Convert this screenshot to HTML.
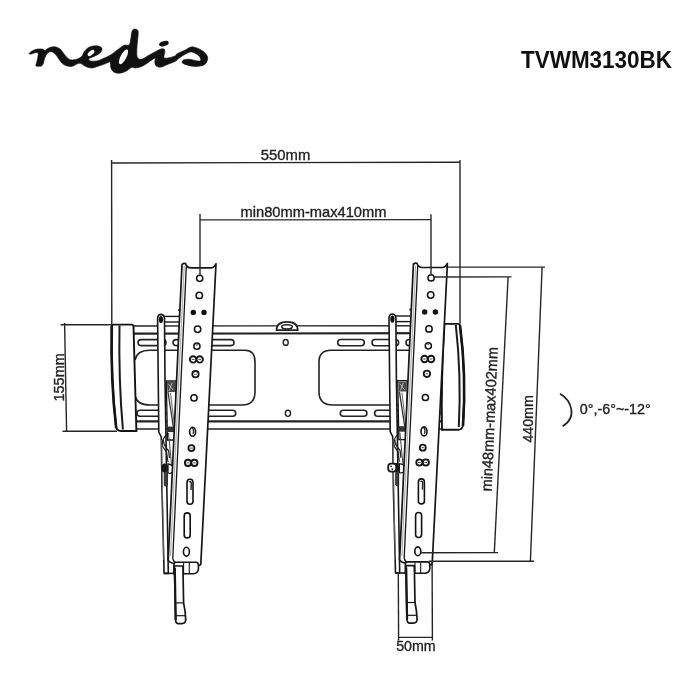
<!DOCTYPE html><html><head><meta charset="utf-8"><style>html,body{margin:0;padding:0;background:#fff;width:700px;height:700px;overflow:hidden}svg{display:block;will-change:transform}</style></head><body>
<svg width="700" height="700" viewBox="0 0 700 700">
<rect width="700" height="700" fill="#fff"/>
<g stroke="#222" fill="none">
<line x1="134" y1="326" x2="445" y2="325.8" stroke-width="1.4"/>
<line x1="134" y1="333.7" x2="443" y2="333.2" stroke-width="2.2"/>
<line x1="135" y1="421.3" x2="441" y2="421.3" stroke-width="2.2"/>
<line x1="135" y1="429" x2="441" y2="429" stroke-width="1.4"/>
<rect x="138" y="339.6" width="28" height="6.0" rx="3.0" stroke-width="1.6"/>
<rect x="173" y="339.6" width="61" height="6.0" rx="3.0" stroke-width="1.6"/>
<rect x="337.7" y="339.5" width="26.600000000000023" height="6.199999999999989" rx="3.0999999999999943" stroke-width="1.6"/>
<rect x="372" y="339.5" width="26.600000000000023" height="6.199999999999989" rx="3.0999999999999943" stroke-width="1.6"/>
<rect x="406" y="339.5" width="34" height="6.199999999999989" rx="3.0999999999999943" stroke-width="1.6"/>
<rect x="137" y="410.3" width="29" height="6.0" rx="3.0" stroke-width="1.6"/>
<rect x="172" y="410.3" width="63.69999999999999" height="6.0" rx="3.0" stroke-width="1.6"/>
<rect x="340.3" y="410.3" width="26.599999999999966" height="6.0" rx="3.0" stroke-width="1.6"/>
<rect x="374.6" y="410.3" width="25.69999999999999" height="6.0" rx="3.0" stroke-width="1.6"/>
<rect x="407" y="410.3" width="33" height="6.0" rx="3.0" stroke-width="1.6"/>
<path d="M135,360 Q137,350.3 150,350.3 L245,350.3 Q255,350.3 255,362 L255,392 Q255,405 242,405 L150,405 Q137,405 135,396" stroke-width="1.6"/>
<path d="M440,360 Q438,350.3 425,350.3 L331,350.3 Q319,350.3 319,362 L319,392 Q319,405 333,405 L425,405 Q438,405 440,396" stroke-width="1.6"/>
<ellipse cx="285.7" cy="342.4" rx="2.5" ry="2.9" stroke-width="1.4"/>
<ellipse cx="287.9" cy="413.3" rx="2.6" ry="3.1" stroke-width="1.4"/>
<path d="M276.5,330.2 Q276.5,321.8 287,321.8 Q297.8,321.8 297.8,330.2 Z" fill="#fff" stroke-width="1.7"/>
<ellipse cx="287" cy="326.8" rx="5.3" ry="2.1" stroke-width="1.5"/>
</g>
<path d="M113.5,324.6 L131.8,324.6 Q133.3,324.6 133.5,326.5 L136.4,431 L121,431 Q116.4,431 116,426 Q111,380 111.6,327 Q111.8,324.6 113.5,324.6 Z" fill="#fff" stroke="#141414" stroke-width="1.9"/>
<path d="M111.8,326 Q110.5,380 116.2,428" stroke="#141414" stroke-width="2.6" fill="none"/>
<path d="M119.5,325.5 Q118.5,380 122.9,429.5" stroke="#1a1a1a" stroke-width="2" fill="none"/>
<path d="M444.5,323.9 L458.2,323.9 Q459.7,323.9 460,325.5 Q466.5,375 463,425 Q462.5,429.8 458,429.8 L442,429.8 Q441,380 444.5,323.9 Z" fill="#fff" stroke="#141414" stroke-width="1.9"/>
<path d="M460,325.5 Q466.5,375 463,426" stroke="#141414" stroke-width="2.6" fill="none"/>
<path d="M455.8,325 Q461.5,375 458.8,427" stroke="#1a1a1a" stroke-width="2" fill="none"/>
<g id="br"><path d="M157.6,318.5 Q157.8,314.4 161,314.4 Q164.3,314.6 164.5,318.5 L165,380 L168.3,573.4 L164.1,573.4 L162,490 L161.3,437 L158.8,432 Z" fill="#fff" stroke="#161616" stroke-width="1.6" stroke-linejoin="round"/><ellipse cx="161" cy="319.5" rx="2.1" ry="3.6" fill="#111"/><line x1="161.5" y1="440" x2="163.8" y2="560" stroke="#888" stroke-width="0.7"/><line x1="164.5" y1="316.4" x2="180" y2="316.4" stroke="#161616" stroke-width="1.4"/><line x1="164.5" y1="322" x2="180" y2="322" stroke="#161616" stroke-width="1.4"/><path d="M166.3,381 L176,381 L175,440 L167.5,440 Z" fill="#fff" stroke="#161616" stroke-width="1.3"/><path d="M167,382 L175.5,382 L175,392 L167.5,392 Z" fill="#4a4a4a"/><path d="M168.5,384 L173,390 M172,383 L169,391" stroke="#ddd" stroke-width="0.7"/><line x1="168" y1="392" x2="173.5" y2="428" stroke="#333" stroke-width="1.3"/><line x1="170.5" y1="393" x2="174.5" y2="426" stroke="#555" stroke-width="0.9"/><rect x="167" y="426.6" width="7.5" height="5.5" fill="#333"/><path d="M167.5,433.5 Q160.5,440 163,447 L166.5,452 L168,462" stroke="#222" stroke-width="1.2" fill="none"/><line x1="168.5" y1="433" x2="172.5" y2="475" stroke="#444" stroke-width="1"/><path d="M163.3,440 Q163.8,446 168.6,450.7 L169.5,458" stroke="#222" stroke-width="1.3" fill="none"/><path d="M168,464 Q172.6,464.5 173.4,468 L173.6,471.5 Q171,474 168,473 Z" fill="#fff" stroke="#1a1a1a" stroke-width="1.3"/><ellipse cx="164.8" cy="468" rx="3.4" ry="4.6" fill="#161616"/><rect x="164.3" y="471.5" width="3" height="14.5" rx="1.2" fill="#444" stroke="#1a1a1a" stroke-width="0.9"/><path d="M182,264.5 Q183.5,263 185.5,263.6 Q187,267.9 191,267.9 L210.7,267.9 Q214,267.9 216,263.8 L200.8,564.2 Q199.8,565.8 197.5,565.5 L175,563.5 Q169.5,563 168.2,560 Z" fill="#fff" stroke="#161616" stroke-width="1.7" stroke-linejoin="round"/><path d="M184.2,266 L170.5,556" stroke="#b0b0b0" stroke-width="1.2"/><path d="M186.3,266.5 L172.8,558 Q173,562 177,563" stroke="#161616" stroke-width="1.3" fill="none"/><circle cx="179.3" cy="310" r="1.3" fill="#222"/><circle cx="199.7" cy="278.3" r="3.1" fill="#fff" stroke="#141414" stroke-width="1.5"/><circle cx="199.3" cy="295.4" r="3.2" fill="#fff" stroke="#141414" stroke-width="1.5"/><circle cx="193.3" cy="312.4" r="2.7" fill="#111"/><circle cx="204" cy="312.4" r="2.7" fill="#111"/><circle cx="197.6" cy="329.3" r="3.2" fill="#fff" stroke="#141414" stroke-width="1.5"/><circle cx="196.9" cy="346.2" r="3.1" fill="#fff" stroke="#141414" stroke-width="1.5"/><path d="M195.6,343.8 L196.9,345.5 L198.2,343.8" stroke="#222" stroke-width="0.8" fill="none"/><circle cx="193.1" cy="359.4" r="3.2" fill="#fff" stroke="#141414" stroke-width="1.9"/><rect x="191.79999999999998" cy="359.4" y="358.95" width="2.6" height="0.9" fill="#333"/><circle cx="199.7" cy="359.4" r="3.2" fill="#fff" stroke="#141414" stroke-width="1.9"/><rect x="198.39999999999998" cy="359.4" y="358.95" width="2.6" height="0.9" fill="#333"/><circle cx="195.5" cy="374.2" r="3.2" fill="#fff" stroke="#141414" stroke-width="1.8"/><rect x="194.2" cy="374.2" y="373.75" width="2.6" height="0.9" fill="#333"/><circle cx="194" cy="397.9" r="3.1" fill="#fff" stroke="#141414" stroke-width="1.5"/><ellipse cx="192.6" cy="431.8" rx="3" ry="4.5" fill="#fff" stroke="#111" stroke-width="1.6"/><path d="M191.8,428.5 Q193.5,428 193.5,431 L193.2,434" stroke="#222" stroke-width="1.3" fill="none"/><circle cx="191.4" cy="448.1" r="3" fill="#fff" stroke="#141414" stroke-width="1.8"/><rect x="190.1" cy="448.1" y="447.65000000000003" width="2.6" height="0.9" fill="#333"/><circle cx="188" cy="462.9" r="3.1" fill="#fff" stroke="#141414" stroke-width="1.9"/><rect x="186.7" cy="462.9" y="462.45" width="2.6" height="0.9" fill="#333"/><circle cx="194.4" cy="462.9" r="3.1" fill="#fff" stroke="#141414" stroke-width="1.9"/><rect x="193.1" cy="462.9" y="462.45" width="2.6" height="0.9" fill="#333"/><rect x="187" y="479.3" width="6" height="25" rx="3" fill="#fff" stroke="#111" stroke-width="1.6"/><path d="M189,482 Q190.5,481 191.3,483 L191,490" stroke="#222" stroke-width="1.4" fill="none"/><rect x="184.2" y="512.9" width="6" height="25" rx="3" fill="#fff" stroke="#111" stroke-width="1.6"/><ellipse cx="186.4" cy="551.7" rx="3" ry="4.4" fill="#fff" stroke="#111" stroke-width="1.6"/><path d="M173.9,573.6 L173.9,564.5 Q174,562.3 176.5,562.3 L196,562.3 Q198.4,562.5 198.4,565 L198.4,569 Q198,573.7 193,573.7 Z" fill="#fff" stroke="#161616" stroke-width="1.6"/><line x1="164.1" y1="573.4" x2="174" y2="573.4" stroke="#161616" stroke-width="1.6"/><line x1="183.6" y1="563" x2="183.6" y2="573.5" stroke="#161616" stroke-width="1.1"/><line x1="189.3" y1="563" x2="189.3" y2="573.5" stroke="#161616" stroke-width="1.1"/><path d="M174.4,566 L182.9,566 L183.6,602.9 Q185.5,612 185.7,619.5 Q185.6,623.6 182,623.6 L178.5,623.6 Q175.6,623.6 175.6,619.5 Z" fill="#fff" stroke="#161616" stroke-width="1.7" stroke-linejoin="round"/><line x1="174.8" y1="568" x2="175.7" y2="620" stroke="#161616" stroke-width="2.2"/><line x1="175.2" y1="602.9" x2="183.8" y2="602.9" stroke="#161616" stroke-width="1.2"/><line x1="175.5" y1="615.7" x2="185.3" y2="615.7" stroke="#161616" stroke-width="1.2"/></g>
<use href="#br" transform="translate(231.4,-0.4)"/>
<rect x="388.2" y="463.6" width="8" height="8" rx="2.8" fill="#fff" stroke="#161616" stroke-width="1.8"/>
<circle cx="391.2" cy="466.3" r="0.9" fill="#222"/><circle cx="392.4" cy="469.2" r="0.9" fill="#222"/>
<line x1="111.6" y1="160" x2="111.8" y2="324.5" stroke="#262626" stroke-width="1.4"/>
<line x1="111.6" y1="163" x2="460" y2="162.2" stroke="#262626" stroke-width="1.4"/>
<line x1="460" y1="160" x2="460" y2="323.8" stroke="#262626" stroke-width="1.4"/>
<line x1="200" y1="214" x2="200" y2="275.5" stroke="#262626" stroke-width="1.4"/>
<line x1="200" y1="219.9" x2="431" y2="219.6" stroke="#262626" stroke-width="1.4"/>
<line x1="431" y1="214.3" x2="431" y2="275" stroke="#262626" stroke-width="1.4"/>
<line x1="60.5" y1="324.7" x2="112" y2="324.7" stroke="#262626" stroke-width="1.4"/>
<line x1="64.6" y1="323" x2="66.6" y2="432" stroke="#262626" stroke-width="1.4"/>
<line x1="62.5" y1="431.2" x2="117" y2="431.2" stroke="#262626" stroke-width="1.4"/>
<line x1="446" y1="267.1" x2="545" y2="267.1" stroke="#262626" stroke-width="1.4"/>
<line x1="542.1" y1="267" x2="530.4" y2="561.2" stroke="#262626" stroke-width="1.4"/>
<line x1="429" y1="561.3" x2="534" y2="561.2" stroke="#262626" stroke-width="1.4"/>
<line x1="434" y1="277" x2="511.5" y2="276.9" stroke="#262626" stroke-width="1.4"/>
<line x1="508.1" y1="277" x2="494.3" y2="552.7" stroke="#262626" stroke-width="1.4"/>
<line x1="420" y1="552.7" x2="498" y2="552.6" stroke="#262626" stroke-width="1.4"/>
<line x1="398.3" y1="574" x2="398.6" y2="640.5" stroke="#262626" stroke-width="1.4"/>
<line x1="432.1" y1="562" x2="432.4" y2="640.5" stroke="#262626" stroke-width="1.4"/>
<line x1="398.6" y1="637.4" x2="432.4" y2="637.4" stroke="#262626" stroke-width="1.4"/>
<text x="260.8" y="159.6" font-family="Liberation Sans, sans-serif" font-size="15" fill="#222" stroke="#222" stroke-width="0.35" textLength="49.5" lengthAdjust="spacingAndGlyphs" >550mm</text>
<text x="240.5" y="217.2" font-family="Liberation Sans, sans-serif" font-size="15" fill="#222" stroke="#222" stroke-width="0.35" textLength="146" lengthAdjust="spacingAndGlyphs" >min80mm-max410mm</text>
<text x="396.2" y="651.3" font-family="Liberation Sans, sans-serif" font-size="14.6" fill="#222" stroke="#222" stroke-width="0.35" textLength="39.4" lengthAdjust="spacingAndGlyphs" >50mm</text>
<text x="579.8" y="413.8" font-family="Liberation Sans, sans-serif" font-size="14.5" fill="#222" stroke="#222" stroke-width="0.35" textLength="71" lengthAdjust="spacingAndGlyphs" >0°,-6°~-12°</text>
<text transform="translate(63.8,401.5) rotate(-90)" font-family="Liberation Sans, sans-serif" font-size="15.2" fill="#222" stroke="#222" stroke-width="0.35" textLength="48.3" lengthAdjust="spacingAndGlyphs">155mm</text>
<text transform="translate(533,442.6) rotate(-90)" font-family="Liberation Sans, sans-serif" font-size="15.2" fill="#222" stroke="#222" stroke-width="0.35" textLength="47.4" lengthAdjust="spacingAndGlyphs">440mm</text>
<text transform="translate(491.6,491.6) rotate(-87.6)" font-family="Liberation Sans, sans-serif" font-size="15" fill="#222" stroke="#222" stroke-width="0.35" textLength="144.5" lengthAdjust="spacingAndGlyphs">min48mm-max402mm</text>
<path d="M560,393.7 C571,400 578,417 562.6,426.3" stroke="#222" stroke-width="1.7" fill="none"/>
<text x="521" y="68.3" font-family="Liberation Sans, sans-serif" font-size="23.5" font-weight="bold" fill="#111" textLength="151" lengthAdjust="spacingAndGlyphs">TVWM3130BK</text>
<path d="M29.10,53.40 C29.33,52.87 30.93,51.62 32.30,50.90 C33.67,50.18 35.63,49.40 37.30,49.10 C38.97,48.80 41.05,48.85 42.30,49.10 C43.55,49.35 43.97,50.65 44.80,50.60 C45.63,50.55 46.17,49.40 47.30,48.80 C48.43,48.20 50.17,47.30 51.60,47.00 C53.03,46.70 54.48,46.65 55.90,47.00 C57.32,47.35 58.80,48.03 60.10,49.10 C61.40,50.17 62.38,51.85 63.70,53.40 C65.02,54.95 66.57,57.32 68.00,58.40 C69.43,59.48 70.63,59.83 72.30,59.90 C73.97,59.97 76.38,59.45 78.00,58.80 C79.62,58.15 81.00,57.13 82.00,56.00 C83.00,54.87 83.13,53.27 84.00,52.00 C84.87,50.73 86.00,49.33 87.20,48.40 C88.40,47.47 89.73,46.83 91.20,46.40 C92.67,45.97 94.47,45.73 96.00,45.80 C97.53,45.87 99.40,46.30 100.40,46.80 C101.40,47.30 101.87,48.00 102.00,48.80 C102.13,49.60 101.87,50.67 101.20,51.60 C100.53,52.53 99.20,53.60 98.00,54.40 C96.80,55.20 95.33,55.80 94.00,56.40 C92.67,57.00 90.87,57.53 90.00,58.00 C89.13,58.47 88.80,58.73 88.80,59.20 C88.80,59.67 89.13,60.47 90.00,60.80 C90.87,61.13 92.53,61.27 94.00,61.20 C95.47,61.13 97.07,60.92 98.80,60.40 C100.53,59.88 102.38,59.05 104.40,58.10 C106.42,57.15 108.97,55.90 110.90,54.70 C112.83,53.50 114.37,52.12 116.00,50.90 C117.63,49.68 119.25,48.37 120.70,47.40 C122.15,46.43 123.28,45.53 124.70,45.10 C126.12,44.67 128.18,45.92 129.20,44.80 C130.22,43.68 130.32,40.70 130.80,38.40 C131.28,36.10 131.43,32.57 132.10,31.00 C132.77,29.43 133.80,29.00 134.80,29.00 C135.80,29.00 137.60,29.43 138.10,31.00 C138.60,32.57 137.97,36.05 137.80,38.40 C137.63,40.75 137.27,42.87 137.10,45.10 C136.93,47.33 136.80,49.90 136.80,51.80 C136.80,53.70 136.65,55.27 137.10,56.50 C137.55,57.73 138.43,58.85 139.50,59.20 C140.57,59.55 142.17,59.13 143.50,58.60 C144.83,58.07 145.75,57.02 147.50,56.00 C149.25,54.98 152.08,53.54 154.00,52.50 C155.92,51.46 157.58,50.38 159.00,49.75 C160.42,49.12 161.58,48.79 162.50,48.75 C163.42,48.71 164.12,48.88 164.50,49.50 C164.88,50.12 164.83,51.42 164.75,52.50 C164.67,53.58 164.04,55.08 164.00,56.00 C163.96,56.92 163.83,57.67 164.50,58.00 C165.17,58.33 166.25,58.33 168.00,58.00 C169.75,57.67 173.50,56.70 175.00,56.00 C176.50,55.30 175.37,54.77 177.00,53.80 C178.63,52.83 182.70,51.25 184.80,50.20 C186.90,49.15 188.20,48.05 189.60,47.50 C191.00,46.95 191.80,46.75 193.20,46.90 C194.60,47.05 196.30,47.65 198.00,48.40 C199.70,49.15 201.90,50.20 203.40,51.40 C204.90,52.60 206.30,54.30 207.00,55.60 C207.70,56.90 207.80,57.90 207.60,59.20 C207.40,60.50 206.80,62.30 205.80,63.40 C204.80,64.50 203.50,65.30 201.60,65.80 C199.70,66.30 196.70,66.50 194.40,66.40 C192.10,66.30 189.70,65.70 187.80,65.20 C185.90,64.70 183.95,64.00 183.00,63.40 C182.05,62.80 181.90,62.20 182.10,61.60 C182.30,61.00 183.05,60.20 184.20,59.80 C185.35,59.40 187.20,59.10 189.00,59.20 C190.80,59.30 193.20,60.10 195.00,60.40 C196.80,60.70 198.85,61.20 199.80,61.00 C200.75,60.80 200.80,60.00 200.70,59.20 C200.60,58.40 200.15,57.20 199.20,56.20 C198.25,55.20 196.50,53.90 195.00,53.20 C193.50,52.50 191.70,51.90 190.20,52.00 C188.70,52.10 187.70,52.90 186.00,53.80 C184.30,54.70 181.83,56.12 180.00,57.40 C178.17,58.68 177.00,60.37 175.00,61.50 C173.00,62.63 170.25,63.28 168.00,64.20 C165.75,65.12 163.33,66.62 161.50,67.00 C159.67,67.38 158.08,67.00 157.00,66.50 C155.92,66.00 155.33,65.08 155.00,64.00 C154.67,62.92 154.92,61.00 155.00,60.00 C155.08,59.00 155.92,58.08 155.50,58.00 C155.08,57.92 154.08,58.50 152.50,59.50 C150.92,60.50 147.83,62.82 146.00,64.00 C144.17,65.18 143.27,65.93 141.50,66.60 C139.73,67.27 136.98,67.88 135.40,68.00 C133.82,68.12 133.00,67.17 132.00,67.30 C131.00,67.43 130.33,68.18 129.40,68.80 C128.47,69.42 127.80,70.30 126.40,71.00 C125.00,71.70 122.65,72.67 121.00,73.00 C119.35,73.33 117.83,73.27 116.50,73.00 C115.17,72.73 113.93,72.23 113.00,71.40 C112.07,70.57 111.33,69.35 110.90,68.00 C110.47,66.65 110.62,64.30 110.40,63.30 C110.18,62.30 110.60,61.87 109.60,62.00 C108.60,62.13 106.33,63.38 104.40,64.10 C102.47,64.82 100.00,65.65 98.00,66.30 C96.00,66.95 94.13,67.85 92.40,68.00 C90.67,68.15 89.00,67.60 87.60,67.20 C86.20,66.80 85.07,66.20 84.00,65.60 C82.93,65.00 82.20,63.93 81.20,63.60 C80.20,63.27 79.48,63.15 78.00,63.60 C76.52,64.05 74.13,65.90 72.30,66.30 C70.47,66.70 68.65,66.45 67.00,66.00 C65.35,65.55 63.77,64.77 62.40,63.60 C61.03,62.43 60.00,60.60 58.80,59.00 C57.60,57.40 56.47,55.22 55.20,54.00 C53.93,52.78 52.40,51.92 51.20,51.70 C50.00,51.48 48.83,52.17 48.00,52.70 C47.17,53.23 46.80,53.83 46.20,54.90 C45.60,55.97 44.87,57.68 44.40,59.10 C43.93,60.52 43.87,62.27 43.40,63.40 C42.93,64.53 42.50,65.42 41.60,65.90 C40.70,66.38 38.95,66.35 38.00,66.30 C37.05,66.25 36.08,66.43 35.90,65.60 C35.72,64.77 36.55,62.85 36.90,61.30 C37.25,59.75 37.82,57.67 38.00,56.30 C38.18,54.93 38.48,53.70 38.00,53.10 C37.52,52.50 36.28,52.53 35.10,52.70 C33.92,52.87 31.90,53.98 30.90,54.10 C29.90,54.22 28.87,53.93 29.10,53.40 Z" fill="#111" stroke="#111" stroke-width="0.6" stroke-linejoin="round"/>
<ellipse cx="91" cy="53" rx="4" ry="2.1" transform="rotate(-40 91 53)" fill="#fff"/>
<ellipse cx="123.5" cy="56.8" rx="8.2" ry="2.9" transform="rotate(-62 123.5 56.8)" fill="#fff"/>
<ellipse cx="163.9" cy="43.6" rx="5" ry="2.5" transform="rotate(-17 163.9 43.6)" fill="#111"/>
</svg></body></html>
